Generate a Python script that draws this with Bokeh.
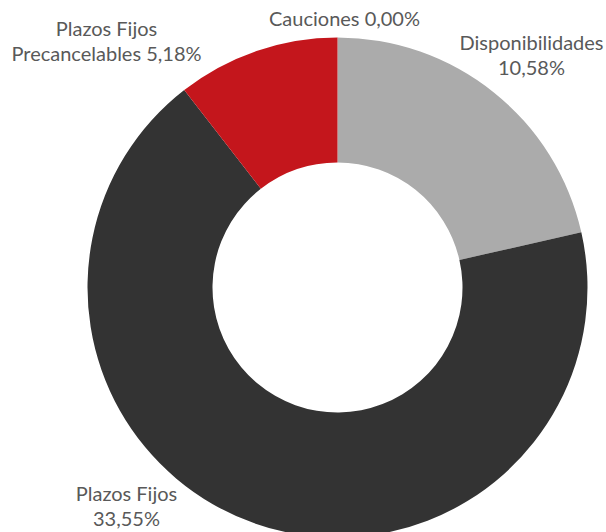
import math
from bokeh.plotting import figure
from bokeh.models import Range1d, ColumnDataSource
from bokeh.core.properties import value
from bokeh.embed import file_html
from bokeh.resources import INLINE

# Data (clockwise from 12 o'clock)
categories = ["Disponibilidades", "Plazos Fijos", "Plazos Fijos Precancelables", "Cauciones"]
values = [10.58, 33.55, 5.18, 0.00]
colors = ["#ABABAB", "#333333", "#C4161C", "#7F7F7F"]
label_lines = [
    ["Disponibilidades", "10,58%"],
    ["Plazos Fijos", "33,55%"],
    ["Plazos Fijos", "Precancelables 5,18%"],
    ["Cauciones 0,00%"],
]

# Layout (pixel positions of label block centers, first-line anchor)
W, H = 606, 532
label_pos = [(531, 41), (126, 492), (106, 27), (344, 17)]
line_gap = 25
cx, cy = 337, 287
r_out, r_in = 250, 125

def sy(y):
    return H - y

p = figure(width=W, height=H, output_backend="svg", toolbar_location=None,
           x_range=Range1d(0, W), y_range=Range1d(0, H),
           min_border=0, outline_line_color=None)
p.axis.visible = False
p.grid.visible = False
p.background_fill_color = "white"
p.border_fill_color = "white"

total = sum(values)
xs, ys, starts, ends, cols = [], [], [], [], []
acc = 0.0
for v, c in zip(values, colors):
    s = math.pi / 2 - acc / total * 2 * math.pi
    acc += v
    e = math.pi / 2 - acc / total * 2 * math.pi
    if v > 0:
        xs.append(cx)
        ys.append(sy(cy))
        starts.append(s)
        ends.append(e)
        cols.append(c)

src = ColumnDataSource(dict(x=xs, y=ys, start=starts, end=ends, color=cols))
p.annular_wedge(x="x", y="y", inner_radius=r_in, outer_radius=r_out,
                start_angle="start", end_angle="end", direction="clock",
                fill_color="color", line_color=None, source=src)

tx, ty, tt = [], [], []
for (lx, ly), lines in zip(label_pos, label_lines):
    for i, t in enumerate(lines):
        tx.append(lx)
        ty.append(sy(ly + i * line_gap))
        tt.append(t)
p.text(x=tx, y=ty, text=tt, text_align="center", text_baseline="alphabetic",
       text_font=value("Lato"), text_font_size="20px", text_color="#595959")

open("out.html", "w").write(file_html(p, INLINE))
